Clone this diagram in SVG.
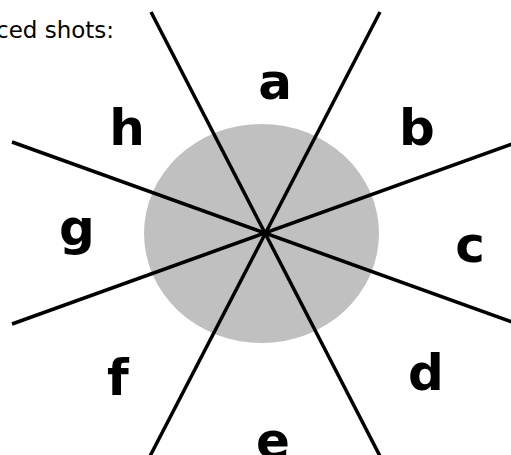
<svg xmlns="http://www.w3.org/2000/svg" width="511" height="455" viewBox="0 0 511 455">
<style>
.lbl{font-family:"DejaVu Sans","Liberation Sans",sans-serif;font-weight:bold;font-size:50px;fill:#000;text-anchor:middle}
.ln{stroke:#000;stroke-width:3.5;stroke-linecap:butt;fill:none}
.cap{font-family:"DejaVu Sans","Liberation Sans",sans-serif;font-size:23px;fill:#000}
</style>
<rect width="511" height="455" fill="#fff"/>
<text class="cap" x="-4" y="38">ced shots:</text>
<g id="disc"><ellipse cx="261.5" cy="233.5" rx="117.5" ry="109.5" fill="#c0c0c0"/></g>
<g id="connectors">
<line class="ln" x1="151" y1="12" x2="382" y2="460"/>
<line class="ln" x1="380" y1="12" x2="148" y2="460"/>
<line class="ln" x1="12" y1="142" x2="515" y2="323"/>
<line class="ln" x1="12" y1="324" x2="515" y2="143"/>
</g>
<g id="a"><text class="lbl" x="275" y="99">a</text></g>
<g id="b"><text class="lbl" x="417" y="145">b</text></g>
<g id="c"><text class="lbl" x="470" y="262">c</text></g>
<g id="d"><text class="lbl" x="426" y="390">d</text></g>
<g id="e"><text class="lbl" x="273" y="458">e</text></g>
<g id="f"><text class="lbl" x="118" y="395">f</text></g>
<g id="g"><text class="lbl" x="77" y="245">g</text></g>
<g id="h"><text class="lbl" x="127" y="145">h</text></g>
</svg>
